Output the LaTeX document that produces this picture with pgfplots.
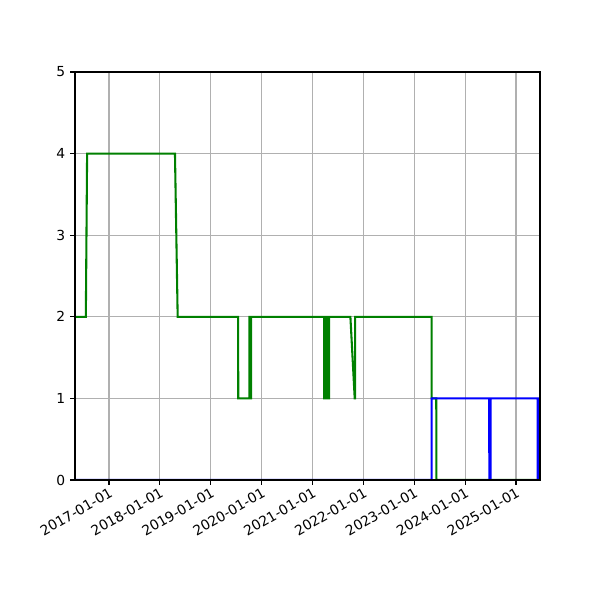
\documentclass[border=0pt]{standalone}
\usepackage{fontspec}
\setmainfont{DejaVu Sans}
\usepackage{pgfplots}
\pgfplotsset{compat=1.18}
\definecolor{mplgreen}{HTML}{008000}
\definecolor{mplblue}{HTML}{0000FF}
\definecolor{gridgray}{HTML}{B0B0B0}
\begin{document}
\begin{tikzpicture}
\useasboundingbox (-0.75in,-1.2in) rectangle (5.25in,4.8in);
\begin{axis}[
  at={(0,0)}, anchor=south west,
  scale only axis, width=4.65in, height=4.08in,
  xmin=2016.332, xmax=2025.472, ymin=0, ymax=5,
  xtick={2017,2018,2019,2020,2021,2022,2023,2024,2025},
  xticklabels={2017-01-01,2018-01-01,2019-01-01,2020-01-01,2021-01-01,2022-01-01,2023-01-01,2024-01-01,2025-01-01},
  ytick={0,1,2,3,4,5},
  grid=major, grid style={gridgray, line width=0.8pt},
  axis line style={line width=0.8pt},
  tick align=outside, tick pos=left,
  major tick length=3.5pt,
  every tick/.style={black, line width=0.8pt},
  xticklabel style={rotate=30, anchor=north east, inner sep=1pt, font=\fontsize{10}{12}\selectfont},
  yticklabel style={font=\fontsize{10}{12}\selectfont},
  /pgf/number format/assume math mode=true,
  clip mode=individual,
]
\addplot[mplgreen, line width=1.5pt, line join=miter] coordinates {
(2016.332,2) (2016.545,2) (2016.570,4) (2018.297,4) (2018.350,2)
(2019.538,2) (2019.541,1) (2019.758,1) (2019.761,2) (2019.772,2) (2019.775,1) (2019.792,1) (2019.795,2)
(2021.228,2) (2021.230,1) (2021.248,1) (2021.250,2) (2021.257,2) (2021.260,1)
(2021.297,1) (2021.299,2) (2021.306,2) (2021.309,1) (2021.326,1) (2021.328,2)
(2021.745,2) (2021.830,1) (2021.837,1) (2021.839,2)
(2023.341,2) (2023.343,1) (2023.433,1) (2023.435,0) (2025.472,0)
};
\addplot[mplblue, line width=1.5pt, line join=miter] coordinates {
(2016.332,0) (2023.340,0) (2023.343,1) (2024.473,1) (2024.476,0) (2024.500,0) (2024.503,1)
(2025.425,1) (2025.428,0) (2025.440,0) (2025.443,1) (2025.472,1)
};
\draw[black, line width=0.8pt] (rel axis cs:0,0) rectangle (rel axis cs:1,1);
\end{axis}
\end{tikzpicture}
\end{document}
